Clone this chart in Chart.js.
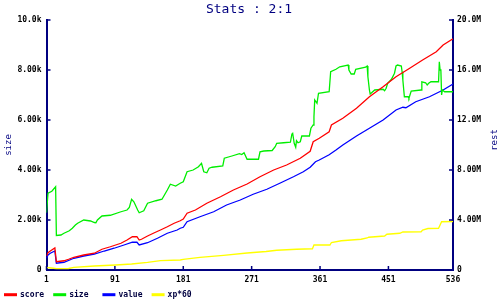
<!DOCTYPE html>
<html><head><meta charset="utf-8">
<script src="https://cdn.jsdelivr.net/npm/chart.js@4.4.1/dist/chart.umd.min.js"></script>
<style>html,body{margin:0;padding:0;background:#fff}#wrap{width:500px;height:300px;position:relative}</style>
</head><body><div id="wrap"><canvas id="c" width="500" height="300"></canvas></div>
<script>
const chartTitle = 'Stats : 2:1';
const leftTitle = 'size';
const rightTitle = 'rest';
const xTicks = [1, 91, 181, 271, 361, 451, 536];

// size (left axis, plain units)
const sizeX = [1,3,8,13,14,20,24,31,35,39,42,50,59,64,66,68,74,85,99,107,110,113,116,121,123,129,134,145,153,160,164,171,177,181,186,194,201,205,208,212,215,219,233,235,245,255,258,261,265,280,282,287,298,302,304,313,322,324,325,327,329,330,332,335,337,347,349,352,353,354,357,359,373,375,382,387,398,399,402,406,408,421,423,424,426,427,433,444,446,448,450,455,459,461,463,468,469,470,472,477,478,481,494,495,500,502,504,507,517,518,519,520,521,522,525,536];
const size  = [2290,3070,3150,3330,1380,1400,1470,1570,1670,1800,1870,2000,1960,1900,1890,2000,2160,2190,2330,2400,2500,2830,2730,2400,2290,2370,2670,2770,2830,3200,3430,3360,3470,3530,3930,4000,4130,4270,3930,3890,4070,4110,4160,4470,4560,4650,4620,4690,4430,4430,4730,4760,4780,4930,5070,5090,5110,5440,5470,5070,4910,5170,5090,5130,5360,5360,5670,5800,6130,6800,6670,7070,7130,7930,8030,8130,8200,8000,7840,7840,8030,8110,8160,7730,7200,7040,7200,7230,7170,7270,7470,7630,7870,8160,8200,8160,7930,7600,6930,6930,6870,7160,7200,7530,7490,7400,7470,7530,7530,8330,8000,8030,7000,7200,7130,7130];

// score (right axis, millions)
const scoreX = [1,3,6,12,14,24,30,37,50,64,74,85,99,107,114,120,123,126,134,143,151,160,169,177,181,186,197,212,230,247,265,282,300,317,335,348,352,360,373,376,391,409,426,444,461,479,496,514,523,536];
const score  = [1.12,1.38,1.52,1.76,0.66,0.74,0.86,1.02,1.20,1.34,1.66,1.86,2.14,2.40,2.66,2.66,2.40,2.46,2.72,2.98,3.20,3.46,3.74,3.94,4.08,4.54,4.80,5.34,5.86,6.40,6.88,7.46,8.00,8.40,8.94,9.50,10.26,10.54,11.06,11.60,12.14,12.94,13.86,14.66,15.46,16.14,16.80,17.46,18.00,18.50];

// value (right axis, millions)
const valueX = [1,3,6,12,14,24,37,50,64,77,90,103,114,120,123,134,147,160,173,177,181,186,203,221,238,256,273,291,308,326,339,348,355,360,373,382,391,409,426,444,461,470,474,487,505,523,536];
const value  = [0.94,1.20,1.34,1.52,0.54,0.62,0.94,1.12,1.28,1.52,1.74,2.00,2.22,2.22,2.00,2.18,2.54,2.94,3.20,3.34,3.42,3.86,4.26,4.66,5.20,5.60,6.06,6.46,6.94,7.46,7.86,8.22,8.66,8.80,9.22,9.60,10.00,10.72,11.34,12.00,12.80,13.02,12.98,13.46,13.86,14.40,14.88];

// xp*60 (right axis, millions)
const xpX = [1,10,14,30,37,64,92,113,134,151,177,181,203,234,265,290,304,330,351,353,374,376,389,402,415,423,425,446,449,466,470,494,496,503,517,521,536];
const xp  = [0.20,0.14,0.11,0.12,0.21,0.32,0.40,0.48,0.61,0.75,0.80,0.85,1.01,1.17,1.36,1.48,1.58,1.66,1.70,2.00,2.00,2.20,2.34,2.40,2.46,2.56,2.62,2.72,2.86,2.94,3.04,3.06,3.20,3.32,3.34,3.86,3.88];

const NAVY = '#000080';
const MONO = '"DejaVu Sans Mono", "Liberation Mono", monospace';
const pts = (xs, ys) => xs.map((x, i) => ({x: x, y: ys[i]}));
const fmt = (v, suf) => v === 0 ? '0' : (v >= 10 ? v.toFixed(1) : v.toFixed(2)) + suf;

const deco = {
  id: 'deco',
  afterDraw(chart) {
    const ctx = chart.ctx, a = chart.chartArea;
    const xs = chart.scales.x, yl = chart.scales.y, yr = chart.scales.y1;
    ctx.save();
    // inward tick marks
    ctx.strokeStyle = NAVY; ctx.lineWidth = 1.5;
    ctx.beginPath();
    xs.ticks.forEach(t => { const p = xs.getPixelForValue(t.value); ctx.moveTo(p, a.bottom); ctx.lineTo(p, a.bottom - 4); });
    yl.ticks.forEach(t => { const p = yl.getPixelForValue(t.value); ctx.moveTo(a.left, p); ctx.lineTo(a.left + 4, p); });
    yr.ticks.forEach(t => { const p = yr.getPixelForValue(t.value); ctx.moveTo(a.right, p); ctx.lineTo(a.right - 4, p); });
    ctx.stroke();
    // title
    ctx.fillStyle = NAVY;
    ctx.font = '13px ' + MONO;
    ctx.textAlign = 'center'; ctx.textBaseline = 'alphabetic';
    ctx.fillText(chartTitle, 249, 12.5);
    // axis titles
    ctx.font = '9px ' + MONO;
    ctx.textBaseline = 'middle';
    const cy = (a.top + a.bottom) / 2;
    ctx.save(); ctx.translate(8.5, cy); ctx.rotate(-Math.PI / 2); ctx.fillText(leftTitle, 0, 0); ctx.restore();
    ctx.save(); ctx.translate(495, cy - 5); ctx.rotate(-Math.PI / 2); ctx.fillText(rightTitle, 0, 0); ctx.restore();
    // legend
    ctx.font = 'bold 8px ' + MONO;
    ctx.textAlign = 'left';
    chart.data.datasets.forEach((d, i) => {
      const x0 = 4 + i * 49.2, y = 294.7;
      ctx.strokeStyle = d.borderColor; ctx.lineWidth = 3;
      ctx.beginPath(); ctx.moveTo(x0, y); ctx.lineTo(x0 + 13, y); ctx.stroke();
      ctx.fillStyle = '#000040';
      ctx.fillText(d.label, x0 + 16, y);
    });
    ctx.restore();
  }
};

const tickFont = {family: MONO, size: 8, weight: 'bold'};
new Chart(document.getElementById('c'), {
  type: 'line',
  data: {
    datasets: [
      {label: 'score', data: pts(scoreX, score), yAxisID: 'y1', borderColor: '#ff0000'},
      {label: 'size', data: pts(sizeX, size), yAxisID: 'y', borderColor: '#00ee00'},
      {label: 'value', data: pts(valueX, value), yAxisID: 'y1', borderColor: '#0000ff'},
      {label: 'xp*60', data: pts(xpX, xp), yAxisID: 'y1', borderColor: '#ffff00'}
    ]
  },
  options: {
    responsive: false, animation: false, devicePixelRatio: 1,
    layout: {padding: {top: 20, left: 0, right: 0, bottom: 0}},
    elements: {line: {borderWidth: 1.3, tension: 0, fill: false}, point: {radius: 0}},
    plugins: {legend: {display: false}, title: {display: false}, tooltip: {enabled: false}},
    scales: {
      x: {
        type: 'linear', min: 1, max: 536,
        afterBuildTicks: s => { s.ticks = xTicks.map(v => ({value: v})); },
        afterFit: s => { s.height = 30; },
        ticks: {color: '#000', font: tickFont, padding: 5, maxRotation: 0, autoSkip: false, callback: v => String(v)},
        grid: {drawOnChartArea: false, drawTicks: false},
        border: {color: NAVY, width: 2}
      },
      y: {
        position: 'left', min: 0, max: 10000,
        afterFit: s => { s.width = 46.5; },
        ticks: {color: '#000', font: tickFont, padding: 5, stepSize: 2000, callback: v => fmt(v / 1000, 'k')},
        grid: {drawOnChartArea: false, drawTicks: false},
        border: {color: NAVY, width: 2}
      },
      y1: {
        position: 'right', min: 0, max: 20,
        afterFit: s => { s.width = 47; },
        ticks: {color: '#000', font: tickFont, padding: 4, stepSize: 4, callback: v => fmt(v, 'M')},
        grid: {drawOnChartArea: false, drawTicks: false},
        border: {color: NAVY, width: 2}
      }
    }
  },
  plugins: [deco]
});
</script></body></html>
